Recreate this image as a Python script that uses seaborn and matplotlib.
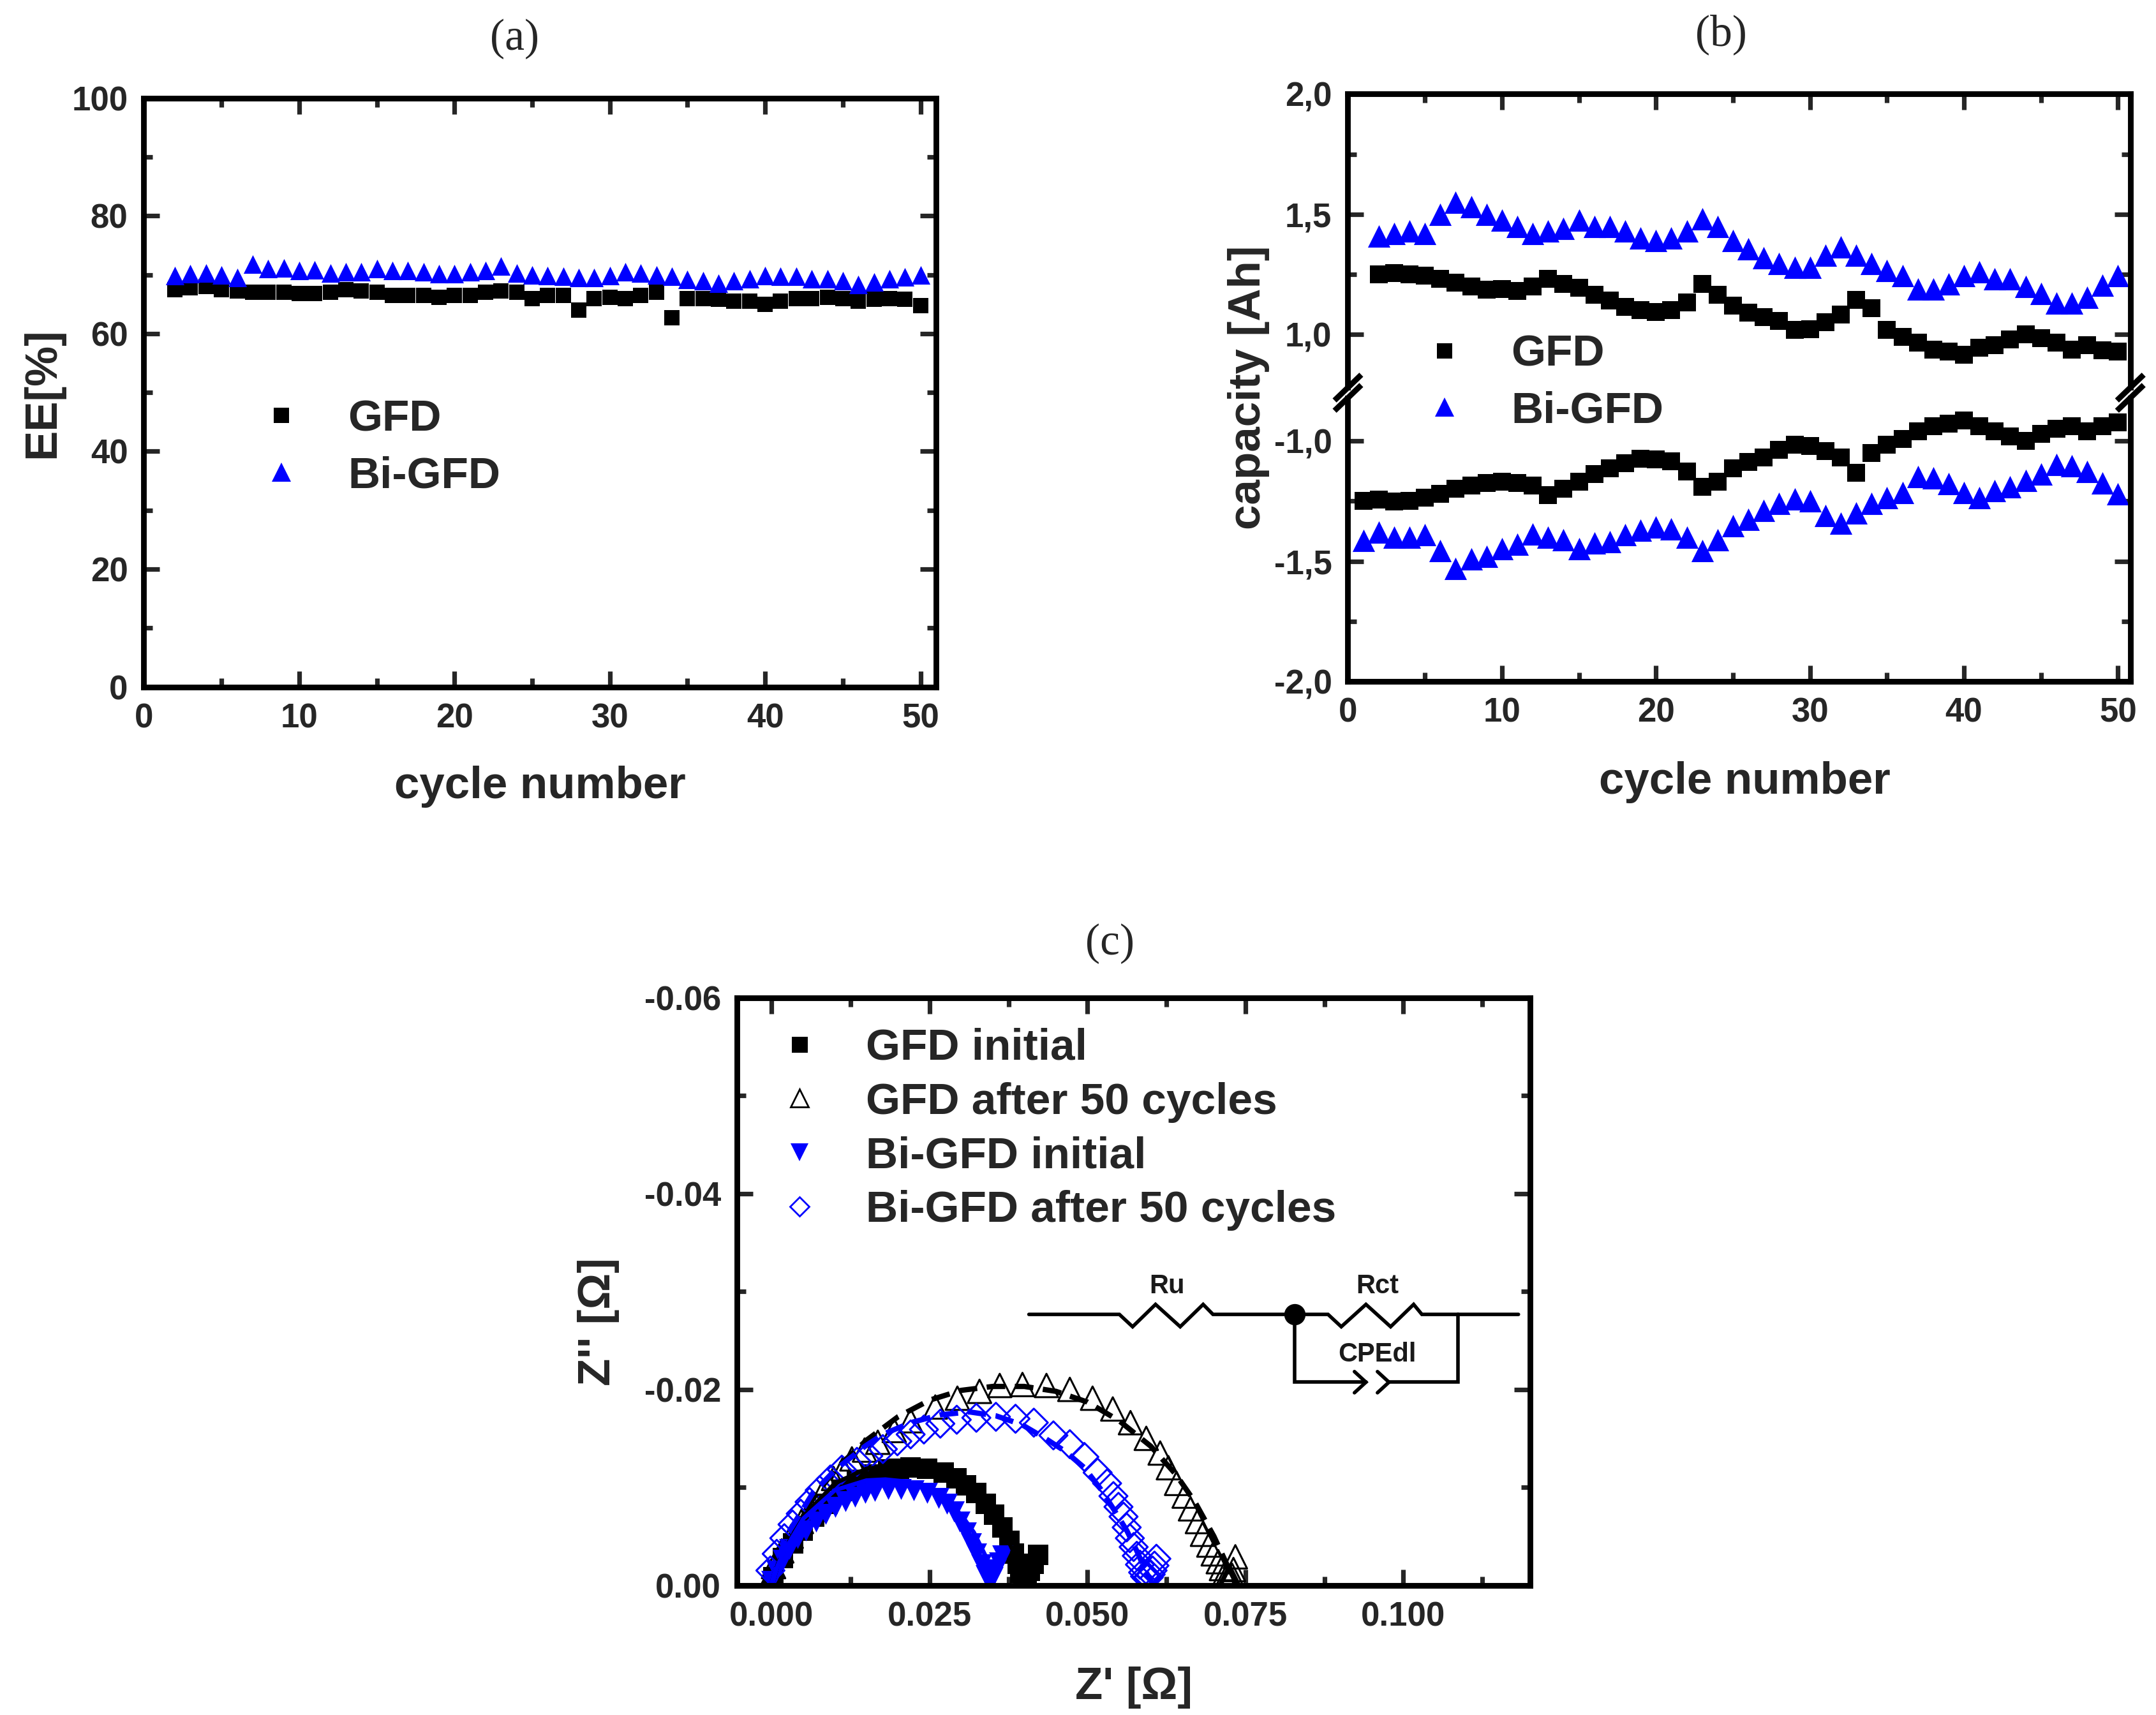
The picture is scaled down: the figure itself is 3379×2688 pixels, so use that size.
import matplotlib
matplotlib.use("Agg")
import matplotlib.pyplot as plt
import seaborn as sns
from matplotlib.lines import Line2D
from matplotlib import font_manager as fm
from matplotlib.ticker import MultipleLocator, FuncFormatter

# ---------------- data: panel (a) energy efficiency ----------------
cycles_a = list(range(2, 51))
ee_gfd = [67.5, 67.8, 68.0, 67.5, 67.2, 67.0, 67.0, 67.0, 66.8, 66.8,
          67.0, 67.5, 67.3, 67.0, 66.5, 66.5, 66.5, 66.2, 66.5, 66.5,
          67.0, 67.2, 67.0, 66.0, 66.5, 66.5, 64.0, 66.0, 66.2, 66.0,
          66.5, 67.0, 62.7, 66.0, 66.0, 65.8, 65.5, 65.5, 65.0, 65.5,
          66.0, 66.0, 66.2, 66.0, 65.5, 65.8, 66.0, 65.8, 64.8]
ee_bi = [69.8, 70.2, 70.3, 70.0, 69.5, 71.8, 71.0, 71.2, 70.7, 70.8,
         70.3, 70.5, 70.5, 71.0, 70.7, 70.7, 70.5, 70.2, 70.2, 70.5,
         70.7, 71.5, 70.3, 70.0, 69.8, 69.7, 69.5, 69.5, 69.8, 70.5,
         70.3, 70.0, 69.7, 69.2, 69.0, 68.6, 69.0, 69.3, 69.8, 69.7,
         69.7, 69.3, 69.3, 69.0, 68.3, 68.8, 69.3, 69.6, 70.0]

# ---------------- data: panel (b) capacity ----------------
cycles_charge = list(range(2, 51))
cycles_dis = list(range(1, 51))
cap_gfd_charge = [1.25, 1.255, 1.25, 1.245, 1.23, 1.215, 1.20, 1.185, 1.19, 1.18,
                  1.20, 1.23, 1.21, 1.195, 1.165, 1.14, 1.115, 1.10, 1.093, 1.10,
                  1.133, 1.21, 1.165, 1.12, 1.09, 1.073, 1.055, 1.018, 1.022, 1.05,
                  1.084, 1.145, 1.11, 1.018, 0.99, 0.967, 0.938, 0.93, 0.916, 0.945,
                  0.956, 0.978, 1.00, 0.985, 0.967, 0.938, 0.956, 0.934, 0.93]
cap_bi_charge = [1.41, 1.42, 1.43, 1.42, 1.50, 1.55, 1.53, 1.50, 1.475, 1.45,
                 1.42, 1.43, 1.44, 1.475, 1.45, 1.45, 1.43, 1.40, 1.39, 1.40,
                 1.43, 1.48, 1.45, 1.39, 1.355, 1.32, 1.295, 1.28, 1.28, 1.33,
                 1.365, 1.33, 1.295, 1.265, 1.245, 1.19, 1.19, 1.21, 1.245, 1.26,
                 1.23, 1.23, 1.20, 1.17, 1.13, 1.13, 1.155, 1.205, 1.245]
cap_gfd_dis = [-1.248, -1.243, -1.252, -1.248, -1.237, -1.22, -1.20, -1.186, -1.175, -1.17,
               -1.175, -1.186, -1.226, -1.20, -1.17, -1.137, -1.115, -1.093, -1.075, -1.077,
               -1.086, -1.126, -1.19, -1.17, -1.115, -1.088, -1.07, -1.038, -1.015, -1.022,
               -1.042, -1.07, -1.133, -1.049, -1.015, -0.993, -0.96, -0.938, -0.927, -0.916,
               -0.938, -0.96, -0.982, -1.0, -0.971, -0.949, -0.938, -0.96, -0.938, -0.923]
cap_bi_dis = [-1.414, -1.38, -1.40, -1.40, -1.39, -1.456, -1.53, -1.49, -1.48, -1.447,
              -1.43, -1.387, -1.40, -1.41, -1.447, -1.425, -1.42, -1.39, -1.37, -1.358,
              -1.365, -1.40, -1.456, -1.41, -1.354, -1.325, -1.29, -1.26, -1.24, -1.248,
              -1.31, -1.343, -1.30, -1.26, -1.237, -1.215, -1.148, -1.155, -1.177, -1.215,
              -1.237, -1.208, -1.19, -1.164, -1.137, -1.097, -1.104, -1.126, -1.175, -1.22]

# ---------------- data: panel (c) impedance (Nyquist) ----------------
gfd_init_re = [0.0003, 0.0018, 0.0034, 0.0049, 0.0067, 0.0088, 0.0111, 0.0135, 0.0158, 0.0184,
               0.0202, 0.0220, 0.0246, 0.0272, 0.0293, 0.0308, 0.0324, 0.0339, 0.0352, 0.0365,
               0.0376, 0.0383, 0.0389, 0.0394, 0.0399, 0.0404, 0.0409, 0.0415, 0.0422]
gfd_init_im = [-0.0008, -0.0028, -0.0043, -0.0056, -0.0070, -0.0083, -0.0096, -0.0107, -0.0113, -0.0118,
               -0.0119, -0.0120, -0.0119, -0.0115, -0.0109, -0.0102, -0.0094, -0.0083, -0.0072, -0.0059,
               -0.0045, -0.0032, -0.0022, -0.0013, -0.0007, -0.0009, -0.0015, -0.0022, -0.0031]
gfd_50_re = [0.0000, 0.0003, 0.0016, 0.0031, 0.0047, 0.0062, 0.0080, 0.0098, 0.0113, 0.0127,
             0.0147, 0.0168, 0.0194, 0.0220, 0.0259, 0.0294, 0.0329, 0.0361, 0.0397, 0.0435,
             0.0472, 0.0508, 0.0540, 0.0568, 0.0593, 0.0615, 0.0628, 0.0641, 0.0653, 0.0663,
             0.0674, 0.0682, 0.0692, 0.0699, 0.0707, 0.0712, 0.0718, 0.0721, 0.0723, 0.0725,
             0.0727, 0.0729, 0.0731, 0.0734]
gfd_50_im = [-0.0010, -0.0019, -0.0035, -0.0050, -0.0065, -0.0078, -0.0094, -0.0109, -0.0119, -0.0129,
             -0.0138, -0.0146, -0.0158, -0.0168, -0.0182, -0.0191, -0.0198, -0.0204, -0.0205, -0.0204,
             -0.0200, -0.0191, -0.0180, -0.0166, -0.0150, -0.0135, -0.0120, -0.0104, -0.0091, -0.0078,
             -0.0065, -0.0052, -0.0041, -0.0032, -0.0024, -0.0017, -0.0013, -0.0010, -0.0008, -0.0007,
             -0.0007, -0.0010, -0.0016, -0.0029]
bi_init_re = [0.0000, 0.0008, 0.0018, 0.0028, 0.0041, 0.0054, 0.0070, 0.0085, 0.0101, 0.0117,
              0.0132, 0.0148, 0.0163, 0.0184, 0.0205, 0.0225, 0.0246, 0.0264, 0.0277, 0.0288,
              0.0298, 0.0308, 0.0316, 0.0324, 0.0332, 0.0339, 0.0345, 0.0350, 0.0355, 0.0360, 0.0365]
bi_init_im = [-0.0004, -0.0015, -0.0026, -0.0037, -0.0048, -0.0056, -0.0065, -0.0073, -0.0080, -0.0086,
              -0.0090, -0.0094, -0.0096, -0.0098, -0.0098, -0.0097, -0.0094, -0.0089, -0.0083, -0.0075,
              -0.0065, -0.0054, -0.0043, -0.0032, -0.0021, -0.0010, -0.0004, -0.0008, -0.0016, -0.0023, -0.0030]
bi_50_re = [-0.0002, 0.0008, 0.0020, 0.0033, 0.0046, 0.0060, 0.0076, 0.0093, 0.0111, 0.0135,
            0.0153, 0.0176, 0.0199, 0.0220, 0.0241, 0.0267, 0.0293, 0.0324, 0.0355, 0.0386,
            0.0415, 0.0446, 0.0472, 0.0495, 0.0516, 0.0531, 0.0541, 0.0549, 0.0557, 0.0562,
            0.0567, 0.0573, 0.0578, 0.0583, 0.0588, 0.0591, 0.0594, 0.0597, 0.0600, 0.0603,
            0.0606, 0.0609]
bi_50_im = [-0.0015, -0.0032, -0.0048, -0.0062, -0.0073, -0.0085, -0.0097, -0.0108, -0.0118, -0.0126,
            -0.0132, -0.0139, -0.0147, -0.0154, -0.0159, -0.0165, -0.0169, -0.0171, -0.0172, -0.0170,
            -0.0166, -0.0153, -0.0144, -0.0131, -0.0115, -0.0104, -0.0091, -0.0080, -0.0070, -0.0059,
            -0.0048, -0.0039, -0.0030, -0.0021, -0.0013, -0.0009, -0.0007, -0.0008, -0.0011, -0.0015,
            -0.0020, -0.0027]
# equivalent-circuit fits
fit_gfd_init_re = [0.0, 0.001, 0.002, 0.005, 0.010, 0.015, 0.020, 0.025, 0.030, 0.034, 0.037, 0.039, 0.040]
fit_gfd_init_im = [0.0, -0.0022, -0.0036, -0.0070, -0.0104, -0.0119, -0.0122, -0.0118, -0.0104, -0.0082, -0.0052, -0.0024, 0.0]
fit_gfd_50_re = [0.0, 0.001, 0.002, 0.005, 0.010, 0.015, 0.020, 0.025, 0.030, 0.035, 0.040, 0.045, 0.050,
                 0.055, 0.060, 0.064, 0.067, 0.070, 0.072, 0.0735]
fit_gfd_50_im = [0.0, -0.0024, -0.0040, -0.0075, -0.0118, -0.0148, -0.0172, -0.0189, -0.0199, -0.0203, -0.0203,
                 -0.0198, -0.0187, -0.0168, -0.0142, -0.0113, -0.0085, -0.0050, -0.0022, 0.0]
fit_bi_init_re = [0.0, 0.001, 0.002, 0.005, 0.010, 0.015, 0.018, 0.021, 0.024, 0.027, 0.030, 0.032, 0.034, 0.0352]
fit_bi_init_im = [0.0, -0.0021, -0.0035, -0.0068, -0.0097, -0.0107, -0.0108, -0.0106, -0.0100, -0.0090, -0.0072,
                  -0.0054, -0.0028, 0.0]
fit_bi_50_re = [0.0, 0.001, 0.0023, 0.0065, 0.0101, 0.0148, 0.0176, 0.0220, 0.0267, 0.0313, 0.0355, 0.0396,
                0.0433, 0.0464, 0.0495, 0.0521, 0.0541, 0.0562, 0.0578, 0.0593, 0.0604]
fit_bi_50_im = [0.0, -0.0025, -0.0050, -0.0094, -0.0118, -0.0142, -0.0154, -0.0166, -0.0174, -0.0177, -0.0173,
                -0.0164, -0.0150, -0.0137, -0.0120, -0.0098, -0.0078, -0.0056, -0.0035, -0.0013, 0.0]

legend_ab = ["GFD", "Bi-GFD"]
legend_c = ["GFD initial", "GFD after 50 cycles", "Bi-GFD initial", "Bi-GFD after 50 cycles"]

# ---------------- styling ----------------
sns.set_style("ticks")
names = {f.name for f in fm.fontManager.ttflist}
SANS = "Liberation Sans" if "Liberation Sans" in names else "DejaVu Sans"
NARROW = "Liberation Sans Narrow" if "Liberation Sans Narrow" in names else SANS
SERIF = "Liberation Serif" if "Liberation Serif" in names else "DejaVu Serif"
plt.rcParams["font.family"] = [SANS, "DejaVu Sans"]
plt.rcParams["font.weight"] = "bold"
plt.rcParams["axes.labelweight"] = "bold"

BLUE = "#0000ff"
TICK_FS = 19
LABEL_FS = 25.5
LEG_FS = 25

fig = plt.figure(figsize=(16.9, 13.44), dpi=200)


def style_axes(ax, xmaj, xmin, ymaj, ymin):
    ax.xaxis.set_major_locator(MultipleLocator(xmaj))
    ax.xaxis.set_minor_locator(MultipleLocator(xmin))
    ax.yaxis.set_major_locator(MultipleLocator(ymaj))
    ax.yaxis.set_minor_locator(MultipleLocator(ymin))
    ax.tick_params(which="both", direction="in", top=True, right=True, width=2.6)
    ax.tick_params(which="major", length=9, labelsize=TICK_FS, pad=9)
    ax.tick_params(which="minor", length=5)
    for s in ax.spines.values():
        s.set_linewidth(3.2)
        s.set_color("black")


# ================= panel (a) =================
ax_a = fig.add_axes([0.0667, 0.5995, 0.3673, 0.3433])
sns.scatterplot(x=cycles_a, y=ee_gfd, ax=ax_a, marker="s", s=70, color="black", linewidth=0, legend=False)
sns.scatterplot(x=cycles_a, y=ee_bi, ax=ax_a, marker="^", s=110, color=BLUE, linewidth=0, legend=False)
ax_a.set_xlim(0, 51)
ax_a.set_ylim(0, 100)
style_axes(ax_a, 10, 5, 20, 10)
ax_a.xaxis.set_major_formatter(FuncFormatter(lambda v, p: f"{v:.0f}"))
ax_a.yaxis.set_major_formatter(FuncFormatter(lambda v, p: f"{v:.0f}"))
ax_a.set_xlabel("cycle number", fontsize=LABEL_FS, fontweight="bold")
ax_a.set_ylabel("EE[%]", fontsize=LABEL_FS, fontweight="bold")
ax_a.xaxis.set_label_coords(0.5, -0.134)
ax_a.yaxis.set_label_coords(-0.101, 0.5)
h_ab = [Line2D([], [], marker="s", color="black", linestyle="none", markersize=8.5, markeredgewidth=0),
        Line2D([], [], marker="^", color=BLUE, linestyle="none", markersize=10.5, markeredgewidth=0)]
ax_a.legend(h_ab, legend_ab, loc="center left", bbox_to_anchor=(0.146, 0.406), frameon=False,
            prop={"size": LEG_FS, "weight": "bold"}, handlelength=1.0, handletextpad=1.0,
            labelspacing=0.35, borderpad=0, borderaxespad=0)
fig.text(0.2385, 0.977, "(a)", family=SERIF, fontsize=25, fontweight="normal", ha="center", va="center")

# ================= panel (b) broken axis =================
brk = 0.771
gap = 0.003
b_left, b_w = 0.625, 0.3628
b_top, b_bot = 0.9452, 0.6027
ax_bu = fig.add_axes([b_left, brk + gap, b_w, b_top - brk - gap])
ax_bl = fig.add_axes([b_left, b_bot, b_w, brk - gap - b_bot])
for ax in (ax_bu, ax_bl):
    sns.scatterplot(x=cycles_charge, y=cap_gfd_charge, ax=ax, marker="s", s=100, color="black",
                    linewidth=0, legend=False)
    sns.scatterplot(x=cycles_charge, y=cap_bi_charge, ax=ax, marker="^", s=160, color=BLUE,
                    linewidth=0, legend=False)
    sns.scatterplot(x=cycles_dis, y=cap_gfd_dis, ax=ax, marker="s", s=100, color="black",
                    linewidth=0, legend=False)
    sns.scatterplot(x=cycles_dis, y=cap_bi_dis, ax=ax, marker="^", s=160, color=BLUE,
                    linewidth=0, legend=False)
    ax.set_xlim(0, 50.8)
    style_axes(ax, 10, 5, 0.5, 0.25)
    ax.yaxis.set_major_formatter(FuncFormatter(lambda v, p: f"{v:.1f}".replace(".", ",")))
    ax.xaxis.set_major_formatter(FuncFormatter(lambda v, p: f"{v:.0f}"))
    ax.set_xlabel("")
    ax.set_ylabel("")
ax_bu.set_ylim(2.0 - (b_top - brk - gap) / 0.1402, 2.0)
ax_bl.set_ylim(-2.0, -2.0 + (brk - gap - b_bot) / 0.1402)
ax_bu.spines["bottom"].set_visible(False)
ax_bl.spines["top"].set_visible(False)
ax_bu.tick_params(which="both", bottom=False, labelbottom=False)
ax_bl.tick_params(which="both", top=False)
fig.text(0.809, 0.544, "cycle number", fontsize=LABEL_FS, fontweight="bold", ha="center", va="center")
fig.text(0.579, 0.774, "capacity [Ah]", rotation=90, fontsize=LABEL_FS, fontweight="bold",
         ha="center", va="center")
# break marks
for xs in (b_left, b_left + b_w):
    for dy in (-gap, gap):
        fig.add_artist(Line2D([xs - 0.0062, xs + 0.0062], [brk + dy - 0.0075, brk + dy + 0.0075],
                              transform=fig.transFigure, color="black", linewidth=3.2,
                              solid_capstyle="butt"))
fig.legend(h_ab, legend_ab, loc="center left", bbox_to_anchor=(0.6595, 0.7768), frameon=False,
           prop={"size": LEG_FS, "weight": "bold"}, handlelength=1.0, handletextpad=1.0,
           labelspacing=0.35, borderpad=0, borderaxespad=0)
fig.text(0.798, 0.980, "(b)", family=SERIF, fontsize=25, fontweight="normal", ha="center", va="center")

# ================= panel (c) Nyquist =================
ax_c = fig.add_axes([0.3417, 0.0757, 0.3679, 0.3425])
sns.scatterplot(x=gfd_init_re, y=gfd_init_im, ax=ax_c, marker="s", s=135, color="black",
                linewidth=0, legend=False)
sns.scatterplot(x=gfd_50_re, y=gfd_50_im, ax=ax_c, marker="^", s=175, facecolor="none",
                edgecolor="black", linewidth=1.1, legend=False)
ax_c.collections[-1].set_facecolor("none")
sns.scatterplot(x=bi_init_re, y=bi_init_im, ax=ax_c, marker="v", s=140, color=BLUE,
                linewidth=0, legend=False)
sns.scatterplot(x=bi_50_re, y=bi_50_im, ax=ax_c, marker="D", s=125, facecolor="none",
                edgecolor=BLUE, linewidth=1.1, legend=False)
ax_c.collections[-1].set_facecolor("none")

sns.lineplot(x=fit_gfd_init_re, y=fit_gfd_init_im, ax=ax_c, color="black", linewidth=2.4,
             sort=False, estimator=None)
sns.lineplot(x=fit_gfd_50_re, y=fit_gfd_50_im, ax=ax_c, color="black", linewidth=3.0,
             sort=False, estimator=None)
ax_c.lines[-1].set_linestyle((0, (3.5, 1.8)))
sns.lineplot(x=fit_bi_init_re, y=fit_bi_init_im, ax=ax_c, color=BLUE, linewidth=2.4,
             sort=False, estimator=None)
sns.lineplot(x=fit_bi_50_re, y=fit_bi_50_im, ax=ax_c, color=BLUE, linewidth=3.0,
             sort=False, estimator=None)
ax_c.lines[-1].set_linestyle((0, (3.5, 1.8)))

ax_c.set_xlim(-0.0055, 0.1201)
ax_c.set_ylim(0.0, -0.06)
style_axes(ax_c, 0.025, 0.0125, 0.02, 0.01)
ax_c.xaxis.set_major_formatter(FuncFormatter(lambda v, p: f"{v:.3f}"))
ax_c.yaxis.set_major_formatter(FuncFormatter(lambda v, p: f"{v:.2f}".replace("-0.00", "0.00")))
ax_c.set_xlabel("Z' [Ω]", fontsize=LABEL_FS, fontweight="bold")
ax_c.set_ylabel("Z'' [Ω]", fontsize=LABEL_FS, fontweight="bold")
ax_c.xaxis.set_label_coords(0.5, -0.139)
ax_c.yaxis.set_label_coords(-0.148, 0.449)

h_c = [Line2D([], [], marker="s", color="black", linestyle="none", markersize=9, markeredgewidth=0),
       Line2D([], [], marker="^", markerfacecolor="none", markeredgecolor="black", linestyle="none",
              markersize=10, markeredgewidth=1.0),
       Line2D([], [], marker="v", color=BLUE, linestyle="none", markersize=10, markeredgewidth=0),
       Line2D([], [], marker="D", markerfacecolor="none", markeredgecolor=BLUE, linestyle="none",
              markersize=7.5, markeredgewidth=1.0)]
ax_c.legend(h_c, legend_c, loc="center left", bbox_to_anchor=(0.051, 0.776), frameon=False,
            prop={"size": LEG_FS, "weight": "bold"}, handlelength=1.0, handletextpad=1.0,
            labelspacing=0.3, borderpad=0, borderaxespad=0)
fig.text(0.5147, 0.4496, "(c)", family=SERIF, fontsize=25, fontweight="normal", ha="center", va="center")

# equivalent circuit inset (axes-fraction layout)
T = ax_c.transAxes
LW = 2.0
yl = 0.461


def seg(xs, ys):
    ax_c.add_line(Line2D(xs, ys, transform=T, color="black", linewidth=LW, clip_on=False,
                         solid_joinstyle="miter"))


seg([0.368, 0.482, 0.4987, 0.5276, 0.5587, 0.5876, 0.600, 0.745, 0.7617, 0.7928, 0.8239, 0.8529,
     0.8633, 0.985],
    [yl, yl, 0.440, 0.478, 0.440, 0.478, yl, yl, 0.440, 0.478, 0.440, 0.478, yl, yl])
yb = 0.3456
seg([0.7026, 0.7026, 0.7928], [yl, yb, yb])
seg([0.8218, 0.9089, 0.9089], [yb, yb, yl])
seg([0.7783, 0.7928, 0.7783], [0.3636, yb, 0.3276])
seg([0.8073, 0.8218, 0.8073], [0.3636, yb, 0.3276])
ax_c.add_line(Line2D([0.7026], [yl], transform=T, marker="o", markersize=11, color="black",
                     linestyle="none"))
for txt, x, y in (("Ru", 0.542, 0.5085), ("Rct", 0.807, 0.5085), ("CPEdl", 0.807, 0.393)):
    ax_c.text(x, y, txt, transform=T, family=NARROW, fontsize=15, fontweight="bold",
              color="#1a1a1a", ha="center", va="center")

fig.savefig("out.png", dpi=200)
